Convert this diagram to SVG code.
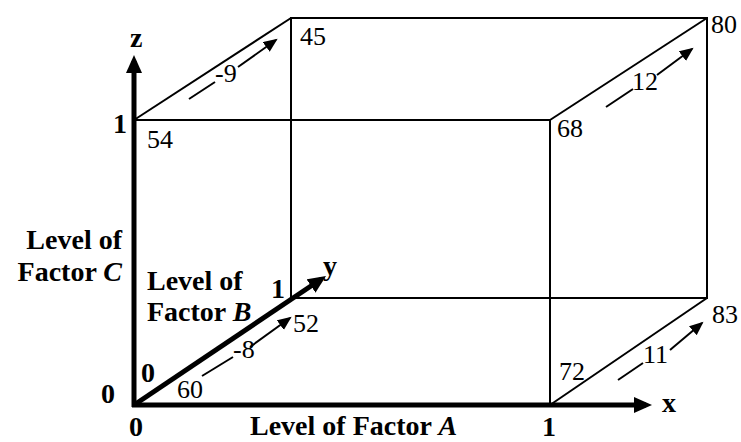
<svg xmlns="http://www.w3.org/2000/svg" width="741" height="442" viewBox="0 0 741 442">
<defs>
<style>
.edge{stroke:#000;stroke-width:2;fill:none}
.axis{stroke:#000;stroke-width:5;fill:none}
.eff{stroke:#000;stroke-width:2;fill:none}
.lab{font-family:"Liberation Serif","Times New Roman",serif;font-weight:bold;font-size:28px;fill:#000}
.num{font-family:"Liberation Serif","Times New Roman",serif;font-size:26px;fill:#000}
</style>
<marker id="ah" markerUnits="userSpaceOnUse" markerWidth="16" markerHeight="14" refX="12" refY="6" orient="auto">
<path d="M0,0 L14,6 L0,12 Z" fill="#000"/>
</marker>
<marker id="axh" markerUnits="userSpaceOnUse" markerWidth="20" markerHeight="18" refX="12" refY="8" orient="auto">
<path d="M0,0 L18,8 L0,16 Z" fill="#000"/>
</marker>
</defs>
<rect width="741" height="442" fill="#fff"/>
<g id="connectors">
<g id="cube">
<path class="edge" d="M134,120 H550 V405"/>
<path class="edge" d="M291,18 H707 V298 H291 Z"/>
<path class="edge" d="M134,120 L291,18"/>
<path class="edge" d="M550,120 L707,18"/>
<path class="edge" d="M550,405 L707,298"/>
</g>
<g id="axes">
<path class="axis" d="M134,407 V61" marker-end="url(#axh)"/>
<path class="axis" d="M132,405 H646" marker-end="url(#axh)"/>
<path class="axis" d="M134,405 L321,279.3" marker-end="url(#axh)"/>
</g>
<g id="effects">
<path class="eff" d="M189,99 L215,82"/>
<path class="eff" d="M238,67 L276,40" marker-end="url(#ah)"/>
<path class="eff" d="M606,107 L633,89"/>
<path class="eff" d="M657,75 L692,49" marker-end="url(#ah)"/>
<path class="eff" d="M618,380 L643,363"/>
<path class="eff" d="M670,350 L702,323" marker-end="url(#ah)"/>
<path class="eff" d="M202,376 L233,357"/>
<path class="eff" d="M250,347 L290,318" marker-end="url(#ah)"/>
</g>
</g>
<g id="axis-labels">
<text class="lab" x="130" y="47">z</text>
<text class="lab" x="323" y="275">y</text>
<text class="lab" x="662" y="412">x</text>
<text class="lab" x="113" y="133">1</text>
<text class="lab" x="271" y="298">1</text>
<text class="lab" x="542" y="436">1</text>
<text class="lab" x="101" y="403">0</text>
<text class="lab" x="141" y="382">0</text>
<text class="lab" x="129" y="436">0</text>
</g>
<g id="factor-c">
<text class="lab" x="122" y="249" text-anchor="end">Level of</text>
<text class="lab" x="122" y="281" text-anchor="end">Factor <tspan font-style="italic">C</tspan></text>
</g>
<g id="factor-b">
<text class="lab" x="147" y="290">Level of</text>
<text class="lab" x="147" y="321">Factor <tspan font-style="italic">B</tspan></text>
</g>
<g id="factor-a">
<text class="lab" x="250" y="435">Level of Factor <tspan font-style="italic">A</tspan></text>
</g>
<g id="values">
<text class="num" x="177" y="398">60</text>
<text class="num" x="293" y="332">52</text>
<text class="num" x="559" y="380">72</text>
<text class="num" x="712" y="323">83</text>
<text class="num" x="147" y="148">54</text>
<text class="num" x="300" y="45">45</text>
<text class="num" x="557" y="137">68</text>
<text class="num" x="711" y="33">80</text>
</g>
<g id="effect-labels">
<text class="num" x="215" y="82">-9</text>
<text class="num" x="632" y="90">12</text>
<text class="num" x="643" y="363">11</text>
<text class="num" x="233" y="358">-8</text>
</g>
</svg>
